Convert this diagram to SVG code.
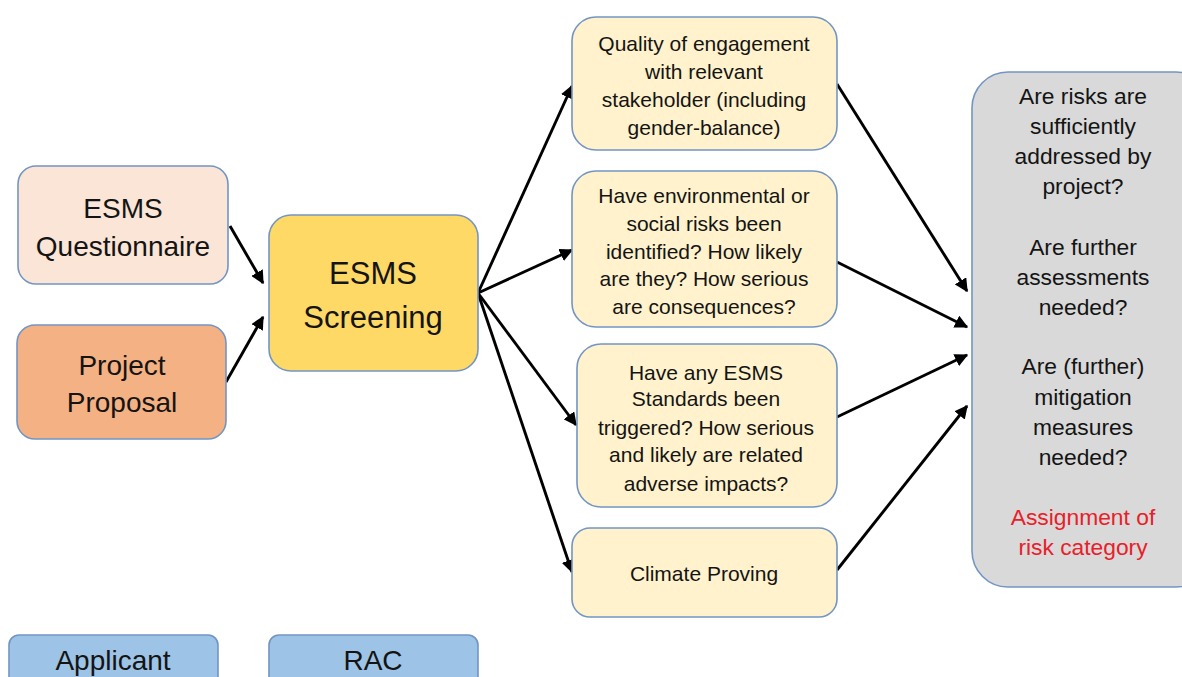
<svg xmlns="http://www.w3.org/2000/svg" width="1182" height="677" viewBox="0 0 1182 677">
<style>
.box{stroke:#7395C4;stroke-width:1.6}
text{font-family:"Liberation Sans",Arial,sans-serif;fill:#141414;text-anchor:middle}
.t20{font-size:21px}
.t22{font-size:22.8px}
.t27{font-size:28px}
.t31{font-size:31px}
.conn{stroke:#000;stroke-width:2.9;fill:none;marker-end:url(#ah)}
</style>
<defs>
<marker id="ah" viewBox="0 0 10 10" refX="9" refY="5" markerWidth="4.6" markerHeight="4.6" orient="auto" markerUnits="strokeWidth">
<path d="M0,0 L10,5 L0,10 z" fill="#000"/>
</marker>
</defs>
<rect width="1182" height="677" fill="#fff"/>
<g id="connectors">
<line class="conn" x1="230" y1="226" x2="263" y2="283"/>
<line class="conn" x1="226" y1="382" x2="263" y2="317"/>
<line class="conn" x1="478" y1="293" x2="572" y2="86"/>
<line class="conn" x1="478" y1="293" x2="572" y2="250"/>
<line class="conn" x1="478" y1="293" x2="576" y2="425"/>
<line class="conn" x1="478" y1="293" x2="572" y2="572"/>
<line class="conn" x1="837" y1="84" x2="967" y2="291"/>
<line class="conn" x1="837" y1="262" x2="967" y2="327"/>
<line class="conn" x1="837" y1="417" x2="967" y2="355"/>
<line class="conn" x1="837" y1="570" x2="967" y2="406"/>
</g>
<g id="questionnaire">
<rect class="box" x="18" y="166" width="210" height="118" rx="18" fill="#FBE5D6"/>
<text class="t27" x="123" y="218">ESMS</text>
<text class="t27" x="123" y="256">Questionnaire</text>
</g>
<g id="proposal">
<rect class="box" x="17" y="325" width="209" height="114" rx="18" fill="#F4B183"/>
<text class="t27" x="122" y="375">Project</text>
<text class="t27" x="122" y="412">Proposal</text>
</g>
<g id="screening">
<rect class="box" x="269" y="215" width="209" height="156" rx="22" fill="#FFD966"/>
<text class="t31" x="373" y="284">ESMS</text>
<text class="t31" x="373" y="328">Screening</text>
</g>
<g id="engagement">
<rect class="box" x="572" y="17" width="265" height="133" rx="24" fill="#FFF2CC"/>
<text class="t20" x="704" y="51">Quality of engagement</text>
<text class="t20" x="704" y="79">with relevant</text>
<text class="t20" x="704" y="107">stakeholder (including</text>
<text class="t20" x="704" y="135">gender-balance)</text>
</g>
<g id="risks">
<rect class="box" x="572" y="171" width="265" height="156" rx="24" fill="#FFF2CC"/>
<text class="t20" x="704" y="203">Have environmental or</text>
<text class="t20" x="704" y="231">social risks been</text>
<text class="t20" x="704" y="259">identified? How likely</text>
<text class="t20" x="704" y="286">are they? How serious</text>
<text class="t20" x="704" y="314">are consequences?</text>
</g>
<g id="standards">
<rect class="box" x="577" y="344" width="260" height="163" rx="24" fill="#FFF2CC"/>
<text class="t20" x="706" y="380">Have any ESMS</text>
<text class="t20" x="706" y="406">Standards been</text>
<text class="t20" x="706" y="435">triggered? How serious</text>
<text class="t20" x="706" y="462">and likely are related</text>
<text class="t20" x="706" y="491">adverse impacts?</text>
</g>
<g id="climate">
<rect class="box" x="572" y="528" width="265" height="89" rx="18" fill="#FFF2CC"/>
<text class="t20" x="704" y="581">Climate Proving</text>
</g>
<g id="assessment">
<rect class="box" x="972" y="72" width="240" height="515" rx="36" fill="#D9D9D9"/>
<text class="t22" x="1083" y="104">Are risks are</text>
<text class="t22" x="1083" y="134">sufficiently</text>
<text class="t22" x="1083" y="164">addressed by</text>
<text class="t22" x="1083" y="194">project?</text>
<text class="t22" x="1083" y="255">Are further</text>
<text class="t22" x="1083" y="285">assessments</text>
<text class="t22" x="1083" y="315">needed?</text>
<text class="t22" x="1083" y="374">Are (further)</text>
<text class="t22" x="1083" y="405">mitigation</text>
<text class="t22" x="1083" y="435">measures</text>
<text class="t22" x="1083" y="465">needed?</text>
<text class="t22" x="1083" y="525" style="fill:#E8202A">Assignment of</text>
<text class="t22" x="1083" y="555" style="fill:#E8202A">risk category</text>
</g>
<g id="applicant">
<rect class="box" x="9" y="635" width="209" height="60" rx="10" fill="#9DC3E6"/>
<text class="t27" x="113" y="670">Applicant</text>
</g>
<g id="rac">
<rect class="box" x="269" y="635" width="209" height="60" rx="10" fill="#9DC3E6"/>
<text class="t27" x="373" y="670">RAC</text>
</g>
</svg>
